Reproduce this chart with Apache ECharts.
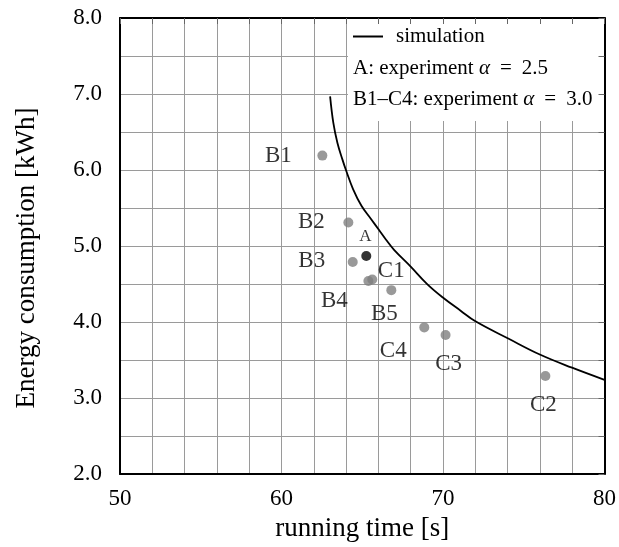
<!DOCTYPE html>
<html>
<head>
<meta charset="utf-8">
<script src="https://cdn.jsdelivr.net/npm/echarts@6/dist/echarts.min.js"></script>
<style>
  html, body { margin: 0; padding: 0; background: #fff; }
  #chart { width: 619px; height: 547px; }
</style>
</head>
<body>
<div id="chart"></div>
<script>
// simulation curve
const simTime = [63.01, 63.21, 63.46, 63.77, 63.99, 64.43, 64.95, 65.53, 66.04, 66.45, 66.97, 68.00, 69.02, 70.01, 71.09, 72.01, 74.07, 76.03, 77.99, 80.0];
const simEnergy = [6.97, 6.62, 6.36, 6.14, 6.00, 5.75, 5.53, 5.36, 5.21, 5.09, 4.95, 4.73, 4.50, 4.32, 4.15, 4.01, 3.78, 3.57, 3.40, 3.24];

// experiment alpha = 2.5
const expANames = ['A'];
const expATime = [65.25];
const expAEnergy = [4.87];

// experiment alpha = 3.0
const expBNames = ['B1', 'B2', 'B3', 'B4', 'B5', 'C1', 'C2', 'C3', 'C4'];
const expBTime = [62.53, 64.14, 64.41, 65.38, 66.80, 65.62, 76.34, 70.16, 68.84];
const expBEnergy = [6.19, 5.31, 4.79, 4.54, 4.42, 4.56, 3.29, 3.83, 3.93];

const seriesNames = ['simulation', 'A: experiment α = 2.5', 'B1–C4: experiment α = 3.0'];

// label placement around the dots (px)
const labelOffsets = {
  A: [-1, -19], B1: [-44, 0], B2: [-37, -1], B3: [-41, -1], B4: [-34, 20],
  B5: [-7, 24], C1: [19, -9], C2: [-2, 29], C3: [3, 29], C4: [-31, 24]
};

const font = 'Liberation Serif';
const gridColor = '#9a9a9a';

const chart = echarts.init(document.getElementById('chart'));

function points(names, xs, ys) {
  return names.map((n, i) => ({
    name: n,
    value: [xs[i], ys[i]],
    label: { offset: labelOffsets[n] }
  }));
}

// italic alpha and wider math spacing round "="
const mathName = name => name.replace('α', '{i|α}').replace(' = ', '{e|=}');

const option = {
  animation: false,
  grid: { left: 120, right: 13, top: 18, bottom: 69 },
  graphic: [{
    type: 'rect',
    z: 5,
    shape: { x: 348, y: 18, width: 257, height: 103 },
    style: { fill: '#fff' }
  }],
  legend: [{
    data: [{ name: seriesNames[0], icon: 'rect' }],
    left: 353, top: 26,
    padding: 0,
    itemWidth: 30, itemHeight: 2,
    z: 10,
    textStyle: { fontFamily: font, fontSize: 21, color: '#000', padding: [0, 0, 0, 8] }
  }, {
    data: [seriesNames[1], seriesNames[2]],
    orient: 'vertical',
    left: 348, top: 58,
    padding: 0,
    itemGap: 10,
    itemWidth: 0, itemHeight: 0,
    itemStyle: { opacity: 0 },
    z: 10,
    formatter: mathName,
    textStyle: {
      fontFamily: font, fontSize: 21, color: '#000',
      rich: {
        i: { fontFamily: font, fontSize: 21, fontStyle: 'italic', color: '#000' },
        e: { fontFamily: font, fontSize: 21, color: '#000', padding: [0, 10, 0, 10] }
      }
    }
  }],
  xAxis: [{
    type: 'value', min: 50, max: 80, interval: 2,
    name: 'running time [s]', nameLocation: 'middle', nameGap: 33,
    nameTextStyle: { fontFamily: font, fontSize: 27, color: '#000' },
    axisLine: { show: true, lineStyle: { color: '#000', width: 2 } },
    axisTick: { show: false },
    splitLine: { show: true, lineStyle: { color: gridColor, width: 1 } },
    axisLabel: {
      formatter: v => (v % 10 === 0 ? String(v) : ''),
      fontFamily: font, fontSize: 23, color: '#000', margin: 13
    }
  }, {
    type: 'value', min: 50, max: 80, interval: 2, position: 'top', z: 8,
    axisLine: { show: true, lineStyle: { color: '#000', width: 2 } },
    axisTick: { show: true, inside: true, length: 6, lineStyle: { color: '#666' } },
    axisLabel: { show: false },
    splitLine: { show: false }
  }],
  yAxis: [{
    type: 'value', min: 2, max: 8, interval: 0.5,
    name: 'Energy consumption [kWh]', nameLocation: 'middle', nameGap: 80,
    nameTextStyle: { fontFamily: font, fontSize: 27, color: '#000', padding: [0, 24, 0, 0] },
    axisLine: { show: true, lineStyle: { color: '#000', width: 2 } },
    axisTick: { show: false },
    splitLine: { show: true, lineStyle: { color: gridColor, width: 1 } },
    axisLabel: {
      formatter: v => (Math.abs(v - Math.round(v)) < 1e-6 ? v.toFixed(1) : ''),
      fontFamily: font, fontSize: 23, color: '#000', margin: 18
    }
  }, {
    type: 'value', min: 2, max: 8, interval: 0.5, position: 'right', z: 8,
    axisLine: { show: true, lineStyle: { color: '#000', width: 2 } },
    axisTick: { show: true, inside: true, length: 6, lineStyle: { color: '#666' } },
    axisLabel: { show: false },
    splitLine: { show: false }
  }],
  series: [{
    name: seriesNames[0],
    type: 'line',
    data: simTime.map((t, i) => [t, simEnergy[i]]),
    smooth: 0.4,
    symbol: 'none',
    color: '#000',
    lineStyle: { color: '#000', width: 1.8 },
    z: 3
  }, {
    name: seriesNames[1],
    type: 'scatter',
    data: points(expANames, expATime, expAEnergy),
    symbolSize: 10,
    itemStyle: { color: '#000' },
    label: { show: true, position: 'inside', formatter: '{b}', color: '#000', fontFamily: font, fontSize: 17 },
    z: 4
  }, {
    name: seriesNames[2],
    type: 'scatter',
    data: points(expBNames, expBTime, expBEnergy),
    symbolSize: 10,
    itemStyle: { color: '#808080' },
    label: { show: true, position: 'inside', formatter: '{b}', color: '#000', fontFamily: font, fontSize: 23 },
    z: 4
  }]
};

chart.setOption(option);
</script>
</body>
</html>
